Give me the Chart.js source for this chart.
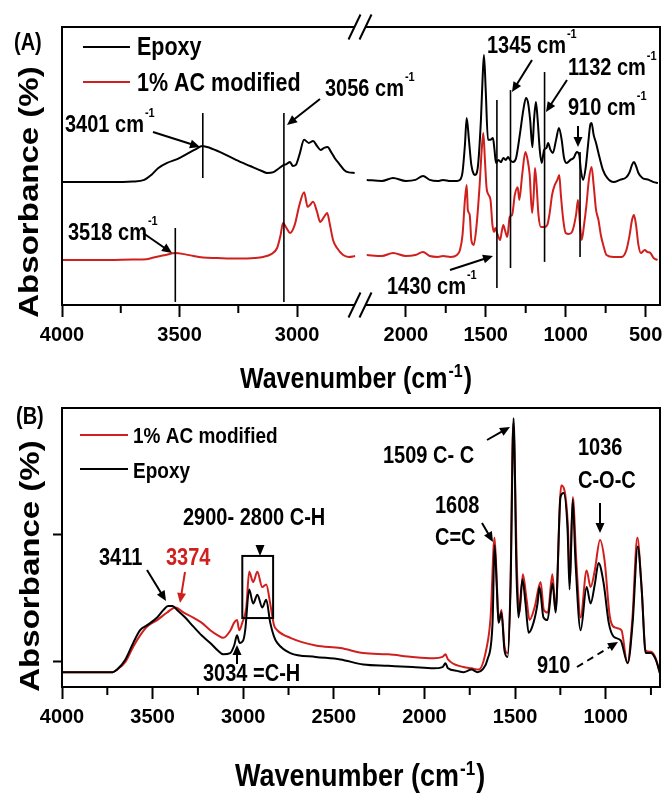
<!DOCTYPE html>
<html>
<head>
<meta charset="utf-8">
<script src="https://cdn.jsdelivr.net/npm/chart.js@4.4.1/dist/chart.umd.min.js"></script>
<style>
  body { margin: 0; background: #fff; }
  #wrap { position: relative; width: 662px; height: 793px; }
  #chartA { position: absolute; left: 0; top: 0; }
  #chartB { position: absolute; left: 0; top: 400px; }
</style>
</head>
<body>
<div id="wrap">
  <canvas id="chartA" width="662" height="400"></canvas>
  <canvas id="chartB" width="662" height="393"></canvas>
</div>
<script>
// ---- panel (A) : [wavenumber, absorbance] ----
const epoxyALeft = [[4000,44.2],[3800,44.2],[3700,44.4],[3650,45.0],[3620,46.8],[3590,49.3],[3553,51.1],[3510,52.5],[3470,54.3],[3430,56.1],
  [3404,57.2],[3370,56.5],[3320,54.7],[3260,52.2],[3200,50.0],[3150,48.2],[3128,47.5],[3100,47.8],[3075,49.3],[3056,50.4],
  [3045,50.7],[3030,51.4],[3018,50.0],[3005,50.4],[2990,54.0],[2970,59.4],[2950,58.3],[2932,59.0],[2915,57.2],[2900,55.8],
  [2885,56.5],[2870,56.8],[2855,55.0],[2840,52.9],[2820,50.7],[2800,48.6],[2780,47.7],[2755,47.5]];
const epoxyARight = [[2244,45.0],[2150,44.6],[2079,45.7],[2000,44.6],[1940,45.0],[1892,46.4],[1850,45.0],[1800,44.6],[1767,45.0],[1720,44.6],
  [1680,44.6],[1661,45.0],[1645,47.8],[1630,57.6],[1619,67.3],[1605,59.4],[1590,50.4],[1575,47.1],[1567,46.8],[1550,49.3],
  [1530,66.5],[1520,80.9],[1511,89.9],[1500,77.3],[1486,59.4],[1470,59.4],[1455,60.1],[1445,55.8],[1436,51.1],[1420,52.2],
  [1405,51.4],[1390,52.9],[1375,52.2],[1360,53.2],[1348,52.2],[1330,51.4],[1310,52.9],[1285,61.9],[1265,70.1],[1248,74.5],
  [1235,72.7],[1222,66.5],[1208,56.8],[1198,66.5],[1186,73.0],[1175,66.5],[1162,55.8],[1150,51.1],[1135,55.8],[1120,56.5],
  [1110,58.3],[1095,55.8],[1080,54.7],[1060,59.4],[1042,63.7],[1025,59.4],[1010,52.9],[994,51.1],[970,52.2],[950,52.9],
  [930,55.0],[915,54.0],[905,48.6],[891,45.0],[875,49.3],[860,57.6],[845,65.1],[838,65.5],[825,61.2],[810,58.3],
  [795,54.7],[767,48.6],[740,45.7],[700,44.2],[660,45.0],[620,46.0],[600,47.8],[585,50.4],[573,51.4],[560,50.0],
  [545,47.5],[520,45.7],[480,45.0],[450,44.2],[423,43.9]];
const modAALeft = [[4000,16.2],[3800,16.2],[3700,16.4],[3640,16.5],[3600,17.3],[3560,18.0],[3518,18.7],[3480,18.3],[3440,17.6],[3400,17.1],
  [3340,16.9],[3250,16.7],[3180,16.9],[3144,17.3],[3110,18.3],[3085,20.5],[3070,25.2],[3060,29.5],[3045,27.7],[3030,25.9],
  [3010,28.8],[2990,36.0],[2970,40.6],[2955,35.3],[2945,36.0],[2932,37.1],[2915,33.5],[2902,29.9],[2885,31.7],[2872,33.1],
  [2860,28.8],[2847,23.4],[2830,20.5],[2804,18.0],[2780,17.3],[2753,17.6]];
const modAARight = [[2244,18.0],[2150,17.6],[2079,18.7],[2000,17.6],[1940,18.0],[1892,19.1],[1850,17.6],[1800,17.3],[1767,17.6],[1720,17.3],
  [1680,18.0],[1661,19.8],[1645,25.2],[1630,37.8],[1619,43.2],[1612,34.2],[1600,32.4],[1590,23.4],[1575,21.6],[1560,27.0],
  [1540,41.4],[1525,55.8],[1515,61.9],[1505,52.2],[1495,42.4],[1482,39.6],[1470,37.8],[1458,28.8],[1448,26.3],[1440,27.7],
  [1425,25.2],[1410,23.4],[1400,26.3],[1390,28.8],[1380,27.0],[1365,24.5],[1350,31.7],[1335,32.4],[1318,39.6],[1300,42.4],
  [1290,37.8],[1272,46.8],[1252,55.0],[1238,52.2],[1225,46.8],[1210,33.1],[1200,39.6],[1192,49.3],[1182,43.2],[1170,32.4],
  [1155,28.1],[1130,28.1],[1115,28.8],[1100,33.1],[1085,39.6],[1068,43.2],[1052,45.0],[1040,46.8],[1030,39.6],[1015,30.6],
  [1000,25.9],[980,25.5],[960,26.3],[935,32.4],[923,37.8],[910,28.8],[900,23.4],[885,28.8],[870,36.0],[855,45.0],
  [838,49.6],[825,43.2],[810,34.2],[795,30.6],[780,25.2],[765,21.6],[745,18.0],[700,17.3],[650,17.3],[620,19.8],
  [600,25.2],[585,30.6],[573,32.4],[560,28.8],[545,21.6],[530,18.7],[505,19.8],[490,19.1],[470,18.7],[450,16.9],[425,16.2]];

// ---- panel (B) ----
const epoxyB = [[4000,-0.08],[3850,-0.08],[3720,-0.08],[3696,-0.06],[3650,0.02],[3607,0.15],[3569,0.25],[3530,0.29],[3475,0.35],[3440,0.41],
  [3414,0.44],[3390,0.44],[3365,0.41],[3320,0.35],[3276,0.28],[3230,0.21],[3182,0.15],[3140,0.09],[3110,0.06],[3072,0.07],
  [3050,0.13],[3034,0.21],[3020,0.15],[3000,0.17],[2989,0.25],[2967,0.57],[2945,0.46],[2922,0.53],[2895,0.43],[2873,0.49],
  [2851,0.31],[2830,0.20],[2812,0.15],[2740,0.07],[2600,0.04],[2464,0.02],[2337,-0.02],[2200,-0.03],[2066,-0.04],[1950,-0.05],
  [1900,-0.04],[1884,-0.01],[1870,-0.05],[1820,-0.07],[1784,-0.08],[1740,-0.06],[1707,-0.08],[1680,-0.06],[1652,0.02],[1624,0.31],
  [1613,0.92],[1600,0.57],[1591,0.31],[1575,0.39],[1558,0.09],[1541,0.04],[1525,0.57],[1508,1.92],[1492,0.70],[1481,0.35],
  [1459,0.65],[1442,0.46],[1425,0.23],[1398,0.31],[1376,0.46],[1365,0.59],[1343,0.35],[1321,0.33],[1293,0.62],[1276,0.39],
  [1249,1.30],[1232,1.33],[1210,1.04],[1199,0.57],[1182,1.28],[1166,0.78],[1138,0.25],[1105,0.59],[1083,0.46],[1060,0.61],
  [1039,0.78],[1011,0.62],[983,0.31],[956,0.20],[917,0.17],[878,-0.01],[851,0.31],[823,0.91],[801,0.57],[779,0.07],
  [751,0.07],[724,0.02],[700,-0.09]];
const modAB = [[4000,-0.08],[3850,-0.08],[3720,-0.08],[3696,-0.06],[3650,0.00],[3607,0.12],[3569,0.21],[3530,0.28],[3475,0.33],[3420,0.39],
  [3374,0.43],[3330,0.39],[3276,0.35],[3230,0.31],[3182,0.25],[3140,0.21],[3110,0.19],[3070,0.25],[3050,0.31],[3034,0.33],
  [3022,0.25],[3005,0.31],[2983,0.43],[2967,0.71],[2945,0.63],[2922,0.71],[2895,0.59],[2873,0.61],[2851,0.46],[2830,0.29],
  [2812,0.25],[2740,0.19],[2600,0.13],[2464,0.11],[2337,0.07],[2200,0.06],[2066,0.04],[1950,0.03],[1900,0.04],[1884,0.06],
  [1870,0.02],[1784,-0.04],[1740,-0.05],[1700,-0.06],[1660,0.09],[1635,0.35],[1613,0.98],[1600,0.61],[1591,0.31],[1575,0.41],
  [1558,0.12],[1541,0.07],[1525,0.62],[1510,1.88],[1488,0.67],[1475,0.39],[1457,0.69],[1436,0.49],[1420,0.33],[1392,0.43],
  [1359,0.63],[1341,0.41],[1319,0.39],[1294,0.69],[1276,0.41],[1245,1.39],[1227,1.35],[1208,1.06],[1197,0.62],[1181,1.30],
  [1162,0.80],[1138,0.35],[1105,0.72],[1083,0.59],[1060,0.72],[1031,0.96],[1006,0.80],[976,0.35],[945,0.27],[913,0.25],
  [880,-0.01],[853,0.33],[825,0.98],[803,0.62],[779,0.09],[751,0.08],[724,0.03],[700,-0.09]];

// ---- ticks and labels ----
const ticksALeft = [4000, 3500, 3000];
const ticksARight = [2000, 1500, 1000, 500];
const minorALeft = [3750, 3250];
const minorARight = [1750, 1250, 750];
const ticksB = [4000, 3500, 3000, 2500, 2000, 1500, 1000];
const minorB = [3750, 3250, 2750, 2250, 1750, 1250, 750];
const ticksBY = [0, 1];
const legendA = ['Epoxy', '1% AC modified'];
const legendB = ['1% AC modified', 'Epoxy'];
const peaksA = [3401, 3056, 3518, 1430, 1345, 1132, 910];

const FONT = '"Liberation Sans", Arial, Helvetica, sans-serif';
const SY = 1.18;          // the picture is a little stretched vertically
const RED = '#d0201e';

Chart.defaults.font.family = FONT;
Chart.defaults.color = '#000';

const pts = arr => arr.map(([x, y]) => ({ x, y }));

function line(data, color, xAxisID) {
  return {
    data: pts(data), borderColor: color, borderWidth: 2, pointRadius: 0,
    cubicInterpolationMode: 'monotone', fill: false, xAxisID, yAxisID: 'y'
  };
}

function xAxis(min, max, tickList, height, extra) {
  return Object.assign({
    type: 'linear', reverse: true, min, max,
    afterBuildTicks: s => { s.ticks = tickList.map(v => ({ value: v })); },
    // fixed height, and no extra room reserved for the end labels
    afterFit: s => { s.height = height; s.paddingLeft = 0; s.paddingRight = 0; },
    ticks: { autoSkip: false, maxRotation: 0, padding: 6, callback: v => String(v),
             font: { size: 20, weight: 'bold' }, color: '#000' },
    grid: { display: true, drawOnChartArea: false, drawTicks: true, tickLength: 12, tickWidth: 2, tickColor: '#000' },
    border: { display: false }
  }, extra || {});
}

// ---- drawing helpers ----
function rich(ctx, parts, x, y, color) {
  ctx.save();
  ctx.translate(x, y);
  ctx.scale(1, SY);
  ctx.fillStyle = color || '#000';
  ctx.textAlign = 'left';
  ctx.textBaseline = 'alphabetic';
  let cx = 0;
  for (const p of parts) {
    ctx.font = 'bold ' + p.size + 'px ' + FONT;
    ctx.fillText(p.t, cx, (p.dy || 0) / SY);
    cx += ctx.measureText(p.t).width + (p.gap || 0);
  }
  ctx.restore();
}
const txt = (ctx, s, x, y, size, color) => rich(ctx, [{ t: s, size }], x, y, color);
const cm = (ctx, num, x, y) => rich(ctx, [{ t: num + ' cm', size: 20, gap: 1 }, { t: '-1', size: 11, dy: -15 }], x, y);

function arrow(ctx, x1, y1, x2, y2, color, dash) {
  const a = Math.atan2(y2 - y1, x2 - x1), L = 10, W = 4.5;
  const c = Math.cos(a), s = Math.sin(a);
  ctx.save();
  ctx.strokeStyle = ctx.fillStyle = color || '#000';
  ctx.lineWidth = 2;
  if (dash) ctx.setLineDash(dash);
  ctx.beginPath();
  ctx.moveTo(x1, y1);
  ctx.lineTo(x2 - L * 0.8 * c, y2 - L * 0.8 * s);
  ctx.stroke();
  ctx.setLineDash([]);
  ctx.beginPath();
  ctx.moveTo(x2, y2);
  ctx.lineTo(x2 - L * c + W * s, y2 - L * s - W * c);
  ctx.lineTo(x2 - L * c - W * s, y2 - L * s + W * c);
  ctx.closePath();
  ctx.fill();
  ctx.restore();
}

function seg(ctx, x1, y1, x2, y2, w, color) {
  ctx.save();
  ctx.strokeStyle = color || '#000';
  ctx.lineWidth = w || 2;
  ctx.beginPath(); ctx.moveTo(x1, y1); ctx.lineTo(x2, y2); ctx.stroke();
  ctx.restore();
}

function yTitle(ctx, x, yc) {
  ctx.save();
  ctx.translate(x, yc);
  ctx.rotate(-Math.PI / 2);
  ctx.scale(SY, 1);
  ctx.font = 'bold 28px ' + FONT;
  ctx.textAlign = 'center';
  ctx.textBaseline = 'alphabetic';
  ctx.fillStyle = '#000';
  ctx.fillText('Absorbance (%)', 0, 0);
  ctx.restore();
}

function xTitle(ctx, x, y, size) {
  rich(ctx, [{ t: 'Wavenumber (cm', size, gap: 1 }, { t: '-1', size: Math.round(size * 0.64), dy: -11, gap: 1 }, { t: ')', size }], x, y);
}

function minorTicks(ctx, scale, values, y0) {
  ctx.save();
  ctx.strokeStyle = '#000';
  ctx.lineWidth = 2;
  for (const v of values) {
    const px = scale.getPixelForValue(v);
    ctx.beginPath(); ctx.moveTo(px, y0); ctx.lineTo(px, y0 + 8); ctx.stroke();
  }
  ctx.restore();
}

function frame(ctx, a) {
  ctx.save();
  ctx.strokeStyle = '#000';
  ctx.lineWidth = 2;
  ctx.strokeRect(a.left, a.top, a.right - a.left, a.bottom - a.top);
  ctx.restore();
}

function axisBreak(ctx, cx, y) {
  ctx.save();
  ctx.fillStyle = '#fff';
  ctx.fillRect(cx - 5, y - 3, 10, 6);
  ctx.strokeStyle = '#000';
  ctx.lineWidth = 2;
  for (const dx of [-5.5, 5.5]) {
    ctx.beginPath();
    ctx.moveTo(cx + dx - 6, y + 12.5);
    ctx.lineTo(cx + dx + 6, y - 12.5);
    ctx.stroke();
  }
  ctx.restore();
}

// ---- panel A decorations ----
const decorA = {
  id: 'decorA',
  afterDraw(chart) {
    const ctx = chart.ctx, a = chart.chartArea;
    const xL = chart.scales.xL, xR = chart.scales.xR, y = chart.scales.y;
    frame(ctx, a);
    minorTicks(ctx, xL, minorALeft, a.bottom);
    minorTicks(ctx, xR, minorARight, a.bottom);
    const cx = (xL.right + xR.left) / 2 - 1;
    axisBreak(ctx, cx, a.top);
    axisBreak(ctx, cx, a.bottom);

    // marker lines for the labelled peaks
    const ext = [[69.1, 45.7], [69.1, 1.1], [27.7, 1.1], [73.7, 6.1], [77.3, 13.3], [83.8, 15.5], [55.0, 17.3]];
    peaksA.forEach((p, i) => {
      const sc = p > 2300 ? xL : xR;
      const px = sc.getPixelForValue(p);
      seg(ctx, px, y.getPixelForValue(ext[i][0]), px, y.getPixelForValue(ext[i][1]), 1.6);
    });

    cm(ctx, '3401', 65, 132);  arrow(ctx, 153, 132, 200, 147);
    cm(ctx, '3056', 325, 96);  arrow(ctx, 320, 99, 287, 125);
    cm(ctx, '3518', 68, 240);  arrow(ctx, 143, 233, 172, 253);
    cm(ctx, '1345', 487, 53);  arrow(ctx, 532, 60, 512, 92);
    cm(ctx, '1132', 568, 75);  arrow(ctx, 567, 80, 546, 112);
    cm(ctx, '910', 568, 115);  arrow(ctx, 578, 126, 578, 147);
    cm(ctx, '1430', 387, 294); arrow(ctx, 450, 270, 493, 256);

    // legend
    seg(ctx, 83, 47, 130, 47, 2, '#000');
    txt(ctx, legendA[0], 137, 55, 21.5);
    seg(ctx, 83, 82, 130, 82, 2, RED);
    txt(ctx, legendA[1], 137, 91, 21.5);

    txt(ctx, '(A)', 14, 50, 20);
    yTitle(ctx, 38, 192);
    xTitle(ctx, 240, 388, 25);
  }
};

// ---- panel B decorations ----
const decorB = {
  id: 'decorB',
  afterDraw(chart) {
    const ctx = chart.ctx, a = chart.chartArea;
    const x = chart.scales.x, y = chart.scales.y;
    frame(ctx, a);
    minorTicks(ctx, x, minorB, a.bottom);

    // box round the C-H stretch band
    const bx1 = x.getPixelForValue(3005), bx2 = x.getPixelForValue(2835);
    const by1 = y.getPixelForValue(0.835), by2 = y.getPixelForValue(0.346);
    ctx.save();
    ctx.strokeStyle = '#000'; ctx.lineWidth = 2;
    ctx.strokeRect(bx1, by1, bx2 - bx1, by2 - by1);
    ctx.restore();

    ctx.save();
    ctx.translate(0, -400);   // page coordinates below
    txt(ctx, '(B)', 16, 424, 20);
    seg(ctx, 80, 435, 128, 435, 2, RED);
    txt(ctx, legendB[0], 133, 443, 19);
    seg(ctx, 80, 469, 128, 469, 2, '#000');
    txt(ctx, legendB[1], 133, 478, 19);

    txt(ctx, '2900- 2800 C-H', 183, 525, 20);
    ctx.beginPath();
    ctx.moveTo(260, 556); ctx.lineTo(255.5, 545); ctx.lineTo(264.5, 545); ctx.closePath();
    ctx.fillStyle = '#000'; ctx.fill();

    txt(ctx, '3411', 99, 565, 20);
    arrow(ctx, 147, 570, 166, 601);
    txt(ctx, '3374', 166, 565, 20, RED);
    arrow(ctx, 185, 572, 180, 603, RED);
    txt(ctx, '3034 =C-H', 203, 681, 20);
    arrow(ctx, 237, 664, 237, 645);

    txt(ctx, '1509 C- C', 383, 463, 20);
    arrow(ctx, 487, 440, 510, 427);
    txt(ctx, '1608', 435, 513, 20);
    txt(ctx, 'C=C', 435, 545, 20);
    arrow(ctx, 482, 523, 493, 542);
    txt(ctx, '1036', 578, 455, 20);
    txt(ctx, 'C-O-C', 578, 488, 20);
    arrow(ctx, 600, 503, 600, 533);
    txt(ctx, '910', 537, 673, 20);
    arrow(ctx, 577, 667, 618, 642, '#000', [7, 5]);

    yTitle(ctx, 39, 566);
    xTitle(ctx, 235, 786, 27);
    ctx.restore();
  }
};

new Chart(document.getElementById('chartA'), {
  type: 'line',
  data: {
    datasets: [
      line(epoxyALeft, '#000', 'xL'),
      line(epoxyARight, '#000', 'xR'),
      line(modAALeft, RED, 'xL'),
      line(modAARight, RED, 'xR')
    ]
  },
  options: {
    responsive: false,
    animation: false,
    layout: { padding: { left: 0, right: 2, top: 27, bottom: 0 }, autoPadding: false },
    plugins: { legend: { display: false }, tooltip: { enabled: false } },
    scales: {
      xL: xAxis(2728, 4000, ticksALeft, 95, { position: 'bottom', stack: 'a', stackWeight: 1 }),
      xR: xAxis(410, 2280, ticksARight, 95, { position: 'bottom', stack: 'a', stackWeight: 1 }),
      y: {
        type: 'linear', min: 0, max: 100,
        afterFit: s => { s.width = 62; },
        ticks: { display: false },
        grid: { display: false },
        border: { display: false }
      }
    }
  },
  plugins: [decorA]
});

new Chart(document.getElementById('chartB'), {
  type: 'line',
  data: {
    datasets: [
      line(epoxyB, '#000', 'x'),
      line(modAB, RED, 'x')
    ]
  },
  options: {
    responsive: false,
    animation: false,
    layout: { padding: { left: 0, right: 2, top: 8, bottom: 0 }, autoPadding: false },
    plugins: { legend: { display: false }, tooltip: { enabled: false } },
    scales: {
      x: xAxis(700, 4000, ticksB, 106, { position: 'bottom' }),
      y: {
        type: 'linear', min: -0.197, max: 2.0,
        afterBuildTicks: s => { s.ticks = ticksBY.map(v => ({ value: v })); },
        afterFit: s => { s.width = 62; },
        ticks: { display: false },
        grid: { display: true, drawOnChartArea: false, drawTicks: true, tickLength: 9, tickWidth: 2, tickColor: '#000' },
        border: { display: false }
      }
    }
  },
  plugins: [decorB]
});
</script>
</body>
</html>
